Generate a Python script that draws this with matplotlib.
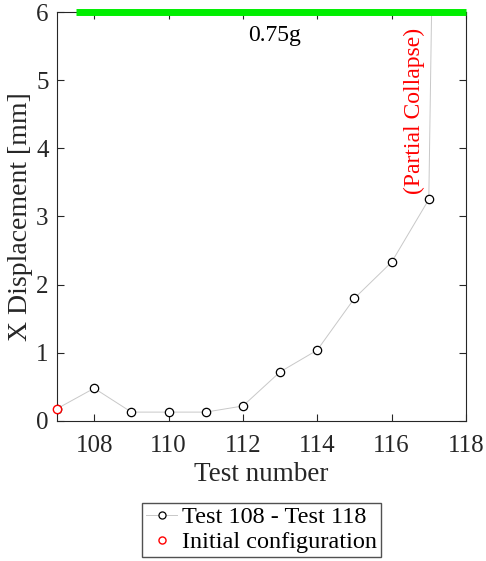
import numpy as np
import matplotlib.pyplot as plt

tests = [107, 108, 109, 110, 111, 112, 113, 114, 115, 116, 117, 118]
disp = [0.18, 0.48, 0.13, 0.13, 0.13, 0.22, 0.72, 1.04, 1.80, 2.33, 3.25, 40.0]
init_test = [107]
init_disp = [0.18]

plt.rcParams['font.family'] = ['Liberation Serif', 'DejaVu Serif']

fig = plt.figure(figsize=(4.86, 5.61), dpi=100)
ax = fig.add_axes([0.1173, 0.2496, 0.8415, 0.729])

ax.plot(tests, disp, color='#c8c8c8', lw=0.7, marker='o', ms=6,
        mfc='white', mec='black', mew=0.9, label='Test 108 - Test 118', zorder=3)
ax.plot(init_test, init_disp, ls='none', marker='o', ms=6, mfc='white',
        mec='red', mew=1.0, label='Initial configuration', zorder=4, clip_on=False)

# shaking level bar
ax.plot([107.5, 118], [6, 6], color='#00ee00', lw=5, solid_capstyle='butt',
        clip_on=False, zorder=5)
ax.text(112.85, 5.66, '0.75g', ha='center', va='center', fontsize=17)
ax.text(116.6, 4.55, '(Partial Collapse)', color='red', rotation=90,
        ha='center', va='center', fontsize=17)

ax.set_xlim(107, 118)
ax.set_ylim(0, 6)
ax.set_xticks(np.arange(108, 119, 2))
ax.set_yticks(np.arange(0, 7, 1))
ax.tick_params(direction='in', top=True, right=True, labelsize=18, length=5,
               color='#262626', labelcolor='#262626')
ax.tick_params(axis='x', pad=10)
ax.tick_params(axis='y', pad=6)
for s in ax.spines.values():
    s.set_color('#262626')
ax.set_xlabel('Test number', fontsize=19.5, color='#262626', labelpad=4)
ax.set_ylabel('X Displacement [mm]', fontsize=20, color='#262626', labelpad=2)

fig.legend(loc='lower center', bbox_to_anchor=(0.538, 0.007), fontsize=17.5,
           frameon=True, fancybox=False, edgecolor='#262626', handlelength=1.3,
           handletextpad=0.2, borderpad=0.15, labelspacing=0.12, borderaxespad=0,
           markerscale=0.85)

fig.savefig('out.png', dpi=100)
